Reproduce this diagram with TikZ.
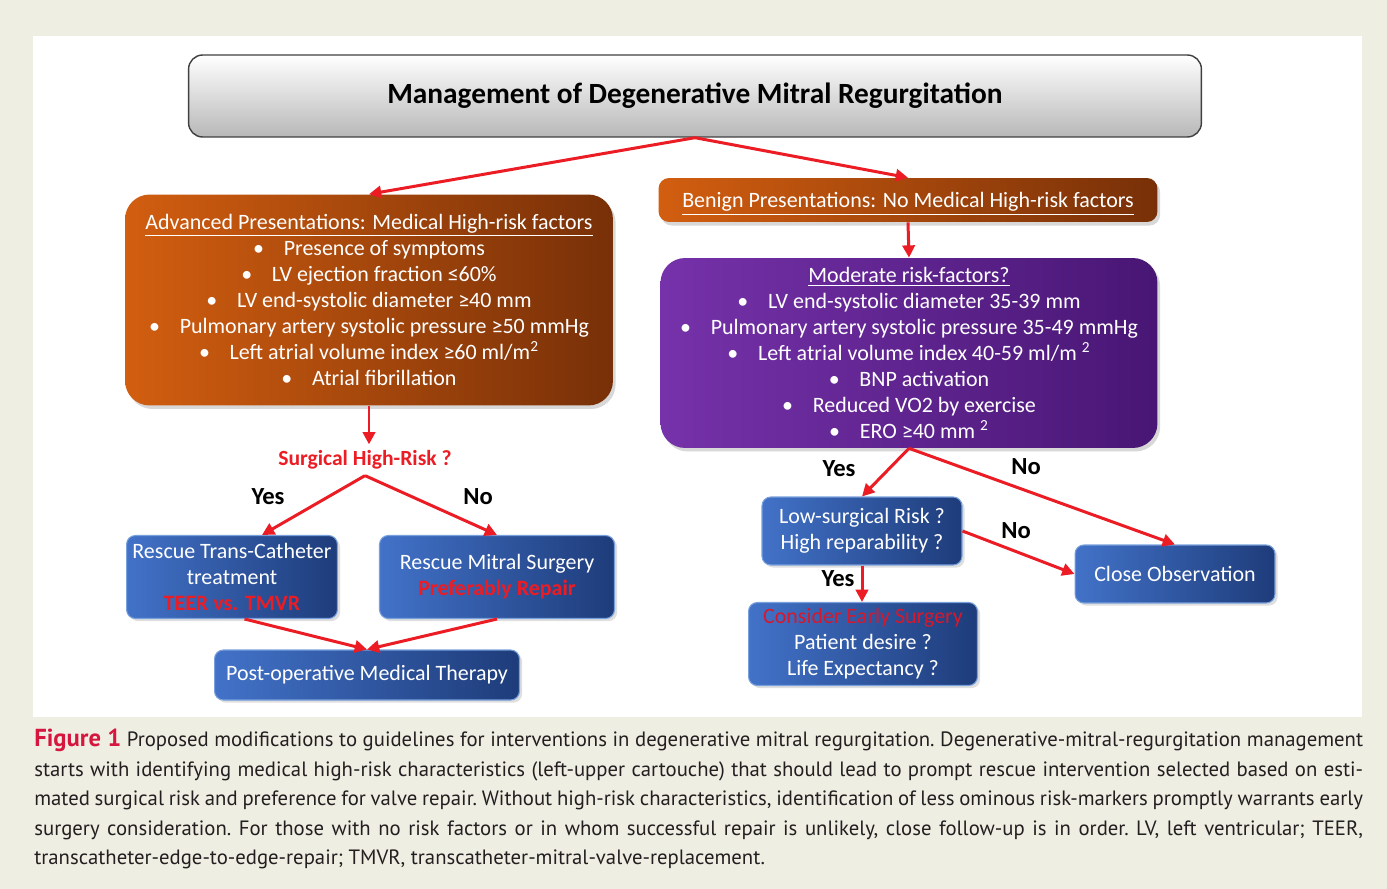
\documentclass[tikz,border=0pt]{standalone}
\usepackage{fontspec}
\setmainfont{Carlito}
\newfontfamily\capfont{PT Sans}
\usetikzlibrary{arrows.meta,shadows}
\definecolor{arrowred}{RGB}{236,28,36}
\definecolor{consred}{RGB}{214,24,44}
\definecolor{pagebg}{RGB}{239,238,227}
\definecolor{orangeL}{RGB}{210,94,16}
\definecolor{orangeR}{RGB}{120,48,8}
\definecolor{purpleL}{RGB}{118,50,170}
\definecolor{purpleR}{RGB}{72,22,116}
\definecolor{blueL}{RGB}{66,114,200}
\definecolor{blueR}{RGB}{30,60,122}
\definecolor{blueline}{RGB}{120,160,220}
\definecolor{figred}{RGB}{214,22,62}
\definecolor{captext}{RGB}{35,31,32}
\newcommand{\bitem}{\textbullet\hspace{0.9em}}

\begin{document}
\begin{tikzpicture}[x=0.02cm, y=-0.02cm,
    >={Triangle[length=7pt,width=7pt]},
    every node/.style={font=\fontsize{12.5}{14.8}\selectfont},
    titlebox/.style={rounded corners=8pt, draw=black!75, line width=0.8pt, top color=white, bottom color=black!28, font=\fontsize{16.7}{20}\selectfont\bfseries},
    orangebox/.style={rounded corners=14pt, left color=orangeL, right color=orangeR, text=white, align=center, drop shadow={opacity=0.3, shadow xshift=1.5pt, shadow yshift=-2pt}},
    purplebox/.style={rounded corners=14pt, left color=purpleL, right color=purpleR, text=white, align=center, drop shadow={opacity=0.3, shadow xshift=1.5pt, shadow yshift=-2pt}},
    box/.style={rounded corners=5pt, draw=blueline, line width=0.6pt, left color=blueL, right color=blueR, text=white, align=center, drop shadow={opacity=0.25, shadow xshift=1.5pt, shadow yshift=-1.5pt}},
    answer/.style={font=\fontsize{14}{16}\selectfont\bfseries},
    flow/.style={draw=arrowred, line width=1.7pt, ->}]

    \fill[pagebg] (0,0) rectangle (1387,889);
    \useasboundingbox (0,0) rectangle (1387,889);
    \fill[white] (33,36) rectangle (1362,717);

    \node[titlebox, minimum width=20.26cm, minimum height=1.64cm] (title) at (695,96) {Management of Degenerative Mitral Regurgitation};

    \node[orangebox, minimum width=9.76cm, minimum height=4.22cm] (adv) at (369,300) {\underline{Advanced Presentations: Medical High-risk factors}\\
        \bitem Presence of symptoms\\
        \bitem LV ejection fraction ≤60\%\\
        \bitem LV end-systolic diameter ≥40 mm\\
        \bitem Pulmonary artery systolic pressure ≥50 mmHg\\
        \bitem Left atrial volume index ≥60 ml/m\textsuperscript{2}\\
        \bitem Atrial fibrillation};
    \node[orangebox, rounded corners=6pt, text depth=0pt, minimum width=9.98cm, minimum height=0.88cm] (benign) at (908,200) {\underline{Benign Presentations: No Medical High-risk factors}};
    \node[purplebox, minimum width=9.94cm, minimum height=3.8cm] (moderate) at (909,353) {\underline{Moderate risk-factors?}\\
        \bitem LV end-systolic diameter 35-39 mm\\
        \bitem Pulmonary artery systolic pressure 35-49 mmHg\\
        \bitem Left atrial volume index 40-59 ml/m \textsuperscript{2}\\
        \bitem BNP activation\\
        \bitem Reduced VO2 by exercise\\
        \bitem ERO ≥40 mm \textsuperscript{2}};

    \node[font=\fontsize{12.3}{14}\selectfont\bfseries, text=arrowred] (risk) at (365,460) {Surgical High-Risk ?};
    \node[box, minimum width=4.18cm, minimum height=1.66cm] (tavi) at (232,577) {Rescue Trans-Catheter\\treatment\\\textcolor{arrowred}{\bfseries TEER vs. TMVR}};
    \node[box, minimum width=4.7cm, minimum height=1.66cm] (surgery) at (497,577) {Rescue Mitral Surgery\\\textcolor{arrowred}{\bfseries Preferably Repair}};
    \node[box, minimum width=6.1cm, minimum height=1cm] (postop) at (367,675) {Post-operative Medical Therapy};
    \node[box, minimum width=4cm, minimum height=1.36cm] (lowrisk) at (862,531) {Low-surgical Risk ?\\High reparability ?};
    \node[box, minimum width=4cm, minimum height=1.16cm] (closeobs) at (1175,574) {Close Observation};
    \node[box, minimum width=4.58cm, minimum height=1.66cm] (early) at (863,644) {\textcolor{consred}{Consider Early Surgery}\\Patient desire ?\\Life Expectancy ?};

    \node[answer] (yes1) at (268,497) {Yes};
    \node[answer] (no1) at (478,497) {No};
    \node[answer] (yes2) at (839,469) {Yes};
    \node[answer] (no2) at (1026,467) {No};
    \node[answer] (no3) at (1016,531) {No};
    \node[answer] (yes3) at (838,579) {Yes};

    \draw[flow] (title.south) -- (adv.north);
    \draw[flow] (title.south) -- (benign.north);
    \draw[flow] (benign.south) -- (moderate.north);
    \draw[flow] (adv.south) -- (adv.south |- risk.north);
    \draw[flow] (risk.south) -- ([xshift=0.6cm]tavi.north);
    \draw[flow] (risk.south) -- (surgery.north);
    \draw[flow] ([xshift=0.25cm]tavi.south) -- (postop.north);
    \draw[flow] (surgery.south) -- (postop.north);
    \draw[flow] (moderate.south) -- (lowrisk.north);
    \draw[flow] (moderate.south) -- (closeobs.north);
    \draw[flow] (lowrisk.east) -- (closeobs.west);
    \draw[flow] (lowrisk.south) -- (lowrisk.south |- early.north);

    \node[anchor=north west, text width=26.58cm, align=justify, inner sep=0pt, text=captext,
        font=\capfont\fontsize{11.8}{16.8}\selectfont\frenchspacing] (caption) at (34,729) {{\fontsize{14}{16.8}\selectfont\bfseries\color{figred}Figure 1} Proposed modifications to guidelines for interventions in degenerative mitral regurgitation. Degenerative-mitral-regurgitation management\linebreak
        starts with identifying medical high-risk characteristics (left-upper cartouche) that should lead to prompt rescue intervention selected based on esti-\linebreak
        mated surgical risk and preference for valve repair. Without high-risk characteristics, identification of less ominous risk-markers promptly warrants early\linebreak
        surgery consideration. For those with no risk factors or in whom successful repair is unlikely, close follow-up is in order. LV, left ventricular; TEER,\linebreak
        transcatheter-edge-to-edge-repair; TMVR, transcatheter-mitral-valve-replacement.};
\end{tikzpicture}
\end{document}
